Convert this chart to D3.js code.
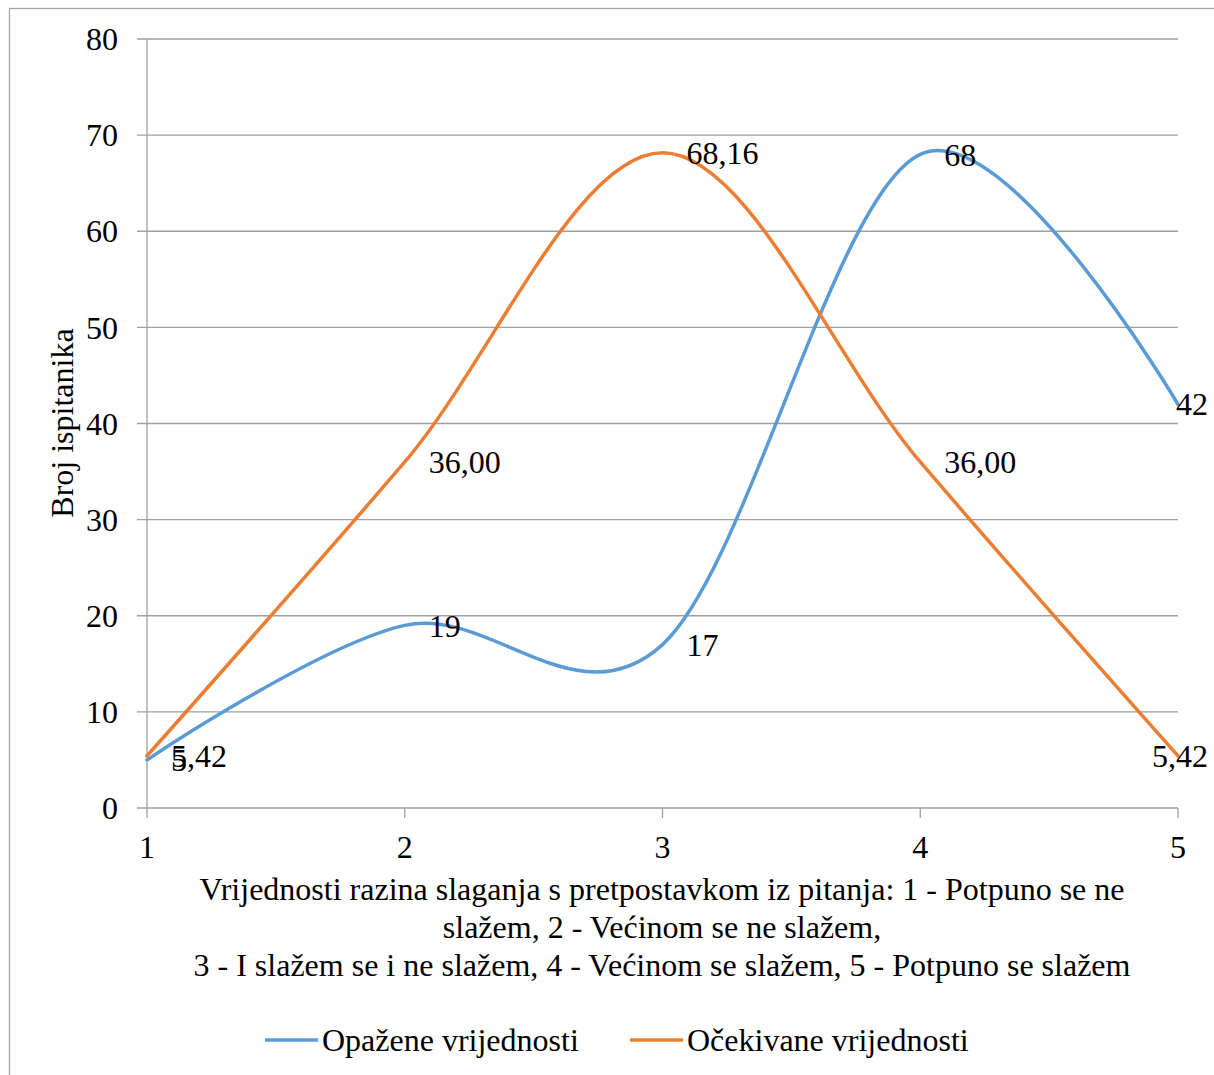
<!DOCTYPE html>
<html>
<head>
<meta charset="utf-8">
<script src="https://cdn.jsdelivr.net/npm/d3@7"></script>
<style>
  body { margin: 0; background: #fff; }
  svg text { font-family: "Liberation Serif", "DejaVu Serif", serif; fill: #000; }
</style>
</head>
<body>
<div id="chart"></div>
<script>
// podaci
var kategorije = [1, 2, 3, 4, 5];
var opazene = [5, 19, 17, 68, 42];
var ocekivane = [5.42, 36.00, 68.16, 36.00, 5.42];
var opazeneLabel = ["5", "19", "17", "68", "42"];
var ocekivaneLabel = ["5,42", "36,00", "68,16", "36,00", "5,42"];
var yTicks = [0, 10, 20, 30, 40, 50, 60, 70, 80];
var serije = [
  {name: "Opažene vrijednosti", values: opazene, labels: opazeneLabel, color: "#5B9BD5"},
  {name: "Očekivane vrijednosti", values: ocekivane, labels: ocekivaneLabel, color: "#ED7D31"}
];
var xNaslov = [
  "Vrijednosti razina slaganja s pretpostavkom iz pitanja: 1 - Potpuno se ne",
  "slažem, 2 - Većinom se ne slažem,",
  "3 - I slažem se i ne slažem, 4 - Većinom se slažem, 5 - Potpuno se slažem"
];

var W = 1214, H = 1075, fs = 32;

var svg = d3.select("#chart").append("svg")
  .attr("width", W).attr("height", H)
  .style("font-family", "'Liberation Serif', 'DejaVu Serif', serif");

// okvir
svg.append("rect")
  .attr("x", 9.5).attr("y", 8.5)
  .attr("width", 1230).attr("height", 1100)
  .style("fill", "none").style("stroke", "#a6a6a6").style("stroke-width", 1.3);

var x = d3.scaleLinear().domain([1, 5]).range([147, 1178]);
var y = d3.scaleLinear().domain([0, 80]).range([808, 39]);

// mreža
svg.selectAll(".grid").data(yTicks).enter().append("line")
  .attr("x1", 137).attr("x2", x(5))
  .attr("y1", function(d){return y(d);}).attr("y2", function(d){return y(d);})
  .style("stroke", "#a0a0a0").style("stroke-width", 1.3);

svg.append("line")
  .attr("x1", x(1)).attr("x2", x(1)).attr("y1", y(80)).attr("y2", y(0) + 10)
  .style("stroke", "#a0a0a0").style("stroke-width", 1.3);

svg.selectAll(".xtick").data(kategorije.slice(1)).enter().append("line")
  .attr("x1", function(d){return x(d);}).attr("x2", function(d){return x(d);})
  .attr("y1", y(0)).attr("y2", y(0) + 10)
  .style("stroke", "#a0a0a0").style("stroke-width", 1.3);

// oznake osi
svg.selectAll(".ylab").data(yTicks).enter().append("text")
  .attr("x", 118).attr("y", function(d){return y(d);})
  .attr("dy", "0.35em")
  .attr("text-anchor", "end")
  .style("font-size", fs + "px")
  .text(function(d){return d;});

svg.selectAll(".xlab").data(kategorije).enter().append("text")
  .attr("x", function(d){return x(d);}).attr("y", 847)
  .attr("dy", "0.35em")
  .attr("text-anchor", "middle")
  .style("font-size", fs + "px")
  .text(function(d){return d;});

svg.append("text")
  .attr("transform", "translate(62,423) rotate(-90)")
  .attr("dy", "0.35em")
  .attr("text-anchor", "middle")
  .style("font-size", fs + "px")
  .text("Broj ispitanika");

svg.selectAll(".xnaslov").data(xNaslov).enter().append("text")
  .attr("x", 662).attr("y", function(d, i){return 889 + i * 38;})
  .attr("dy", "0.35em")
  .attr("text-anchor", "middle")
  .style("font-size", fs + "px")
  .text(function(d){return d;});

// linije
var line = d3.line()
  .x(function(d, i){return x(kategorije[i]);})
  .y(function(d){return y(d);})
  .curve(d3.curveCardinal.tension(0));

svg.selectAll(".serija").data(serije).enter().append("path")
  .attr("d", function(s){return line(s.values);})
  .style("fill", "none")
  .style("stroke", function(s){return s.color;})
  .style("stroke-width", 3.5)
  .style("stroke-linecap", "round");

// oznake podataka
serije.forEach(function(s) {
  svg.selectAll(null).data(s.values).enter().append("text")
    .attr("dy", "0.35em")
    .style("font-size", fs + "px")
    .text(function(d, i){return s.labels[i];})
    .attr("y", function(d){return y(d);})
    .attr("x", function(d, i){
      var w = this.getComputedTextLength();
      return Math.min(x(kategorije[i]) + 24, 1208 - w);
    });
});

// legenda
var leg = svg.selectAll(".leg").data(serije).enter().append("g")
  .attr("transform", function(d, i){return "translate(" + (265 + i * 365) + ",1040)";});
leg.append("line")
  .attr("x1", 0).attr("x2", 53)
  .style("stroke", function(d){return d.color;})
  .style("stroke-width", 3.5);
leg.append("text")
  .attr("x", 57).attr("dy", "0.35em")
  .style("font-size", fs + "px")
  .text(function(d){return d.name;});
</script>
</body>
</html>
